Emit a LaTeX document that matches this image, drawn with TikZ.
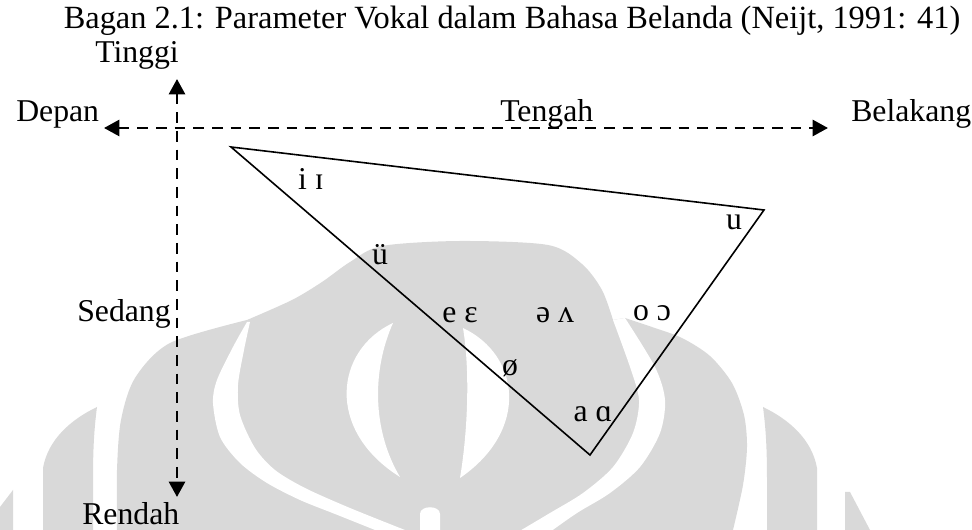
\documentclass[tikz,border=0pt]{standalone}
\usepackage{fontspec}
\setmainfont{Liberation Serif}
\usetikzlibrary{arrows.meta}
\definecolor{wm}{RGB}{217,217,217}
\begin{document}
\begin{tikzpicture}[x=0.75pt,y=-0.75pt,
  lbl/.style={inner sep=0pt,font=\fontsize{23.8}{28}\selectfont},
  axisline/.style={line width=2pt,dash pattern=on 8pt off 6pt},
  tri/.style={line width=1.2pt,line join=miter}]
\useasboundingbox (0,0) rectangle (972,530);
% ---- watermark ----
\fill[wm] (0,530) -- (0,507) -- (13,490) -- (13,530) -- cycle;
\fill[wm] (845,530) -- (845,492) -- (850,492) -- (870,530) -- cycle;
\fill[wm] (43,530) -- (43,468) .. controls (48,440) and (70,420) .. (97,407)
  .. controls (94,430) and (93,450) .. (93,480) -- (93,530) -- cycle;
\fill[wm] (817,530) -- (817,468) .. controls (812,440) and (790,420) .. (763,407)
  .. controls (766,430) and (767,450) .. (767,480) -- (767,530) -- cycle;
\fill[wm] plot[smooth] coordinates {(117,530) (117,470) (121,420) (135,378) (170,343) (247,320)}
  -- plot[smooth] coordinates {(247,320) (292,300) (322,282) (350,262) (382,246) (460,241) (548,245) (582,264) (602,290) (613,320)}
  -- plot[smooth] coordinates {(625,318) (652,327) (682,338) (710,356) (732,383) (744,415) (747,447) (743,485) (733,530)}
  -- cycle;
% white bands
\fill[white] plot[smooth] coordinates {(247,322) (233,347) (217,380) (213,403) (220,437) (240,463) (267,483) (300,500) (335,514) (380,532)}
  -- plot[smooth] coordinates {(410,532) (350,508) (305,488) (275,470) (255,448) (240,415) (238,385) (244,350) (250,322)} -- cycle;
\fill[white] plot[smooth] coordinates {(613,320) (630,367) (639,400) (633,433) (613,467) (583,493) (550,513) (518,532)}
  -- plot[smooth] coordinates {(550,532) (577,513) (610,493) (640,467) (660,433) (665,400) (655,367) (625,318)} -- cycle;
\fill[white] (393,323) .. controls (335,350) and (325,430) .. (400,477)
  .. controls (372,430) and (372,370) .. (393,323);
\fill[white] (463,328) .. controls (520,355) and (530,430) .. (460,478)
  .. controls (468,430) and (470,370) .. (463,328);
\fill[white] (420,531) -- (420,514) .. controls (420,505) and (440,505) .. (440,514) -- (440,531) -- cycle;
% ---- labels ----
\node[lbl,anchor=base,font=\fontsize{24.3}{28}\selectfont] (title) at (512,29) {Bagan 2.1: Parameter Vokal dalam Bahasa Belanda (Neijt, 1991: 41)};
\node[lbl,anchor=base west] (tinggi) at (95,63) {Tinggi};
\node[lbl,anchor=base west] (depan) at (16,122) {Depan};
\node[lbl,anchor=base west] (tengah) at (500,122) {Tengah};
\node[lbl,anchor=base west] (belakang) at (851,122) {Belakang};
\node[lbl,anchor=base west] (sedang) at (77,322) {Sedang};
\node[lbl,anchor=base west] (rendah) at (82,525) {Rendah};
% ---- axes ----
\coordinate (hl) at (104,128);
\coordinate (hr) at (828,128);
\coordinate (vt) at (177,79);
\coordinate (vb) at (177,497);
\draw[axisline,{Triangle[length=11.5pt,width=12pt]}-{Triangle[length=11.5pt,width=12pt]}] (hl) -- (hr);
\draw[axisline,{Triangle[length=11.5pt,width=12pt]}-{Triangle[length=11.5pt,width=12pt]}] (vt) -- (vb);
% ---- triangle ----
\coordinate (ti) at (231,147);
\coordinate (tu) at (764,210);
\coordinate (ta) at (590,455);
\draw[tri] (ti) -- (tu) -- (ta) -- cycle;
% ---- vowels ----
\node[lbl,anchor=base] (vi) at (311,190) {i ɪ};
\node[lbl,anchor=base] (vu) at (734,230) {u};
\node[lbl,anchor=base] (vy) at (380,265) {ü};
\node[lbl,anchor=base] (ve) at (460,323) {e ɛ};
\node[lbl,anchor=base] (vschwa) at (555,323) {ə ʌ};
\node[lbl,anchor=base] (vo) at (652,321) {o ɔ};
\node[lbl,anchor=base] (voe) at (510,376) {ø};
\node[lbl,anchor=base] (va) at (593,422) {a ɑ};
\end{tikzpicture}
\end{document}
